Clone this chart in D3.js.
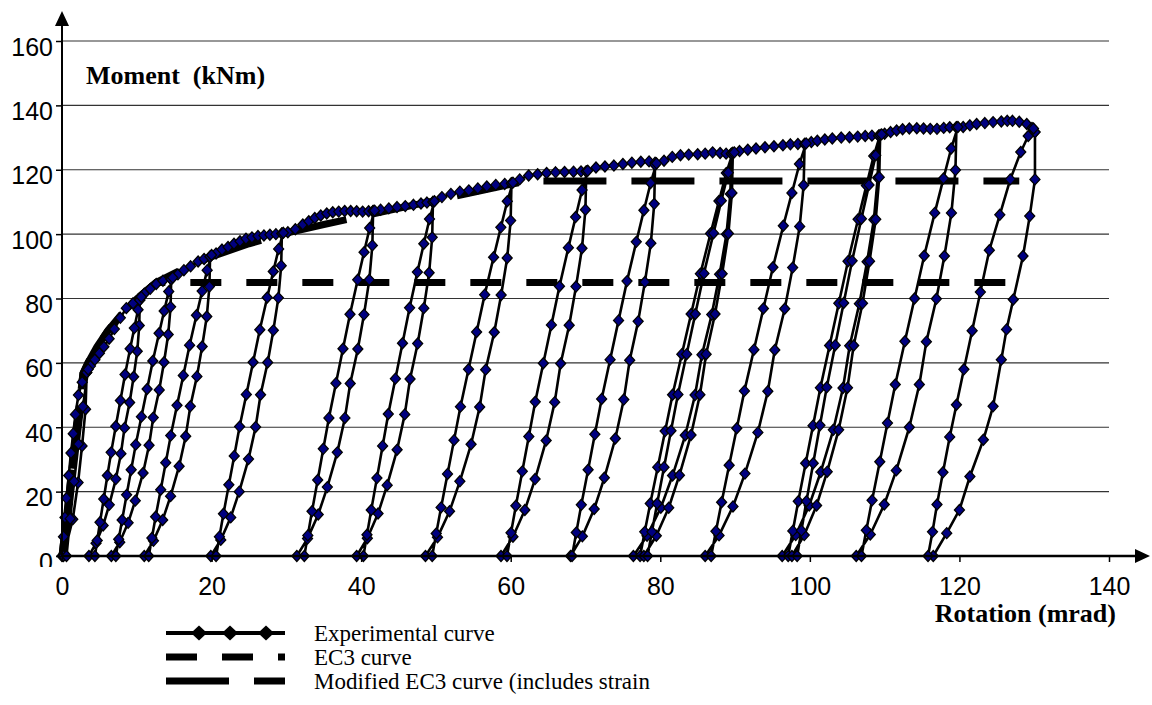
<!DOCTYPE html>
<meta charset="utf-8">
<title>Moment - rotation</title>
<style>

body {
  margin: 0;
  background: #fff;
}
svg {
  display: block;
}
.num {
  font-family: "Liberation Sans", Arial, sans-serif;
  font-size: 25px;
  fill: #000;
}
.serif {
  font-family: "Liberation Serif", "Times New Roman", serif;
  fill: #000;
}

</style>
<body>
<svg></svg>
</body>
<script src="https://d3js.org/d3.v7.min.js"></script>
<script>

// axis ticks
var rotationTicks = [0, 20, 40, 60, 80, 100, 120, 140];
var momentTicks = [0, 20, 40, 60, 80, 100, 120, 140, 160];

// EC3 curves [rotation mrad, moment kNm]
var ec3Curve = [[0,0],[2.8,56.7],[3.47,60],[4.66,65],[6.13,70],[7.91,75],[10.05,80],[12.58,85],[128,85]];
var modifiedEc3 = [[0,0],[2.8,56.7],[3.47,60],[4.66,65],[6.13,70],[7.91,75],[10.05,80],[12.58,85],[16,89],[20,93],
  [25,97],[30,100.3],[35,103],[40,105.5],[45,108],[50,110.5],[55,113],[60,115.5],[62.5,116.5],[128,116.5]];

// experimental : loading envelope
var skeleton = [[0,0],[0.2,6],[0.4,12],[0.6,18],[0.9,25],[1.2,32],[1.5,38],[1.8,44],[2.2,50],[2.7,54],[3.3,57],
  [3.8,59],[4.4,61],[5.0,63],[5.6,65],[6.3,67.5],[7.0,70.5],[7.8,74],[8.6,77],[9.5,78.5],[10.4,79.5],
  [11.0,81.5],[11.8,83],[12.6,84.5],[13.5,85.5],[14.6,86],
  [15.5,87.5],[16.3,88.8],[17.2,90],[18.2,91.5],[19.0,92.3],[19.8,93],
  [20.6,94],[21.4,95.2],[22.2,96],[23.0,97],[23.8,97.8],[24.6,98.6],[25.4,99],[26.2,99.4],[27.0,99.6],[27.8,99.8],[28.6,100],[29.4,100.2],
  [30.2,100.6],[31.2,101.5],[32.2,103],[33.0,104],[33.8,105],[34.6,105.8],[35.4,106.4],[36.2,106.8],[37.0,107],[37.8,107.2],[38.6,107.2],[39.4,107.1],[40.2,107],[41.0,107.1],[41.6,107.2],
  [42.6,107.6],[43.7,108],[44.8,108.4],[45.9,108.7],[47.0,109.1],[48.0,109.5],[48.8,109.8],[49.6,110],
  [50.8,111.5],[52.0,112.5],[53.2,113.2],[54.4,113.6],[55.6,114.2],[56.8,114.8],[58.0,115.3],[59.2,115.6],[60.1,115.8],
  [61.2,117],[62.4,118.2],[63.6,118.6],[64.8,119],[66.0,119.2],[67.2,119.3],[68.4,119.4],[69.4,119.5],[70.1,119.5],
  [71.4,120.7],[72.6,121],[73.8,121.3],[75.0,121.8],[76.2,122.2],[77.4,122.5],[78.5,122.6],[79.3,122.2],
  [80.5,122.8],[81.6,124],[82.7,124.5],[83.8,124.7],[85.0,124.8],[86.0,125],[87.0,125.4],[88.0,125.2],[88.8,125],[89.5,125],
  [90.6,125.8],[91.7,126.2],[92.8,126.6],[94.0,127],[95.2,127.3],[96.4,127.6],[97.4,127.9],[98.4,128],[99.3,128],
  [100.2,128.6],[101.0,129],[102.0,129.4],[103.0,129.7],[104.2,130],[105.3,130.1],[106.4,130.3],[107.4,130.5],[108.3,130.6],[109.2,130.6],
  [110.0,131.2],[110.8,131.7],[111.6,132.2],[112.4,132.6],[113.3,132.8],[114.3,132.9],[115.2,132.8],[116.1,132.7],[117.0,132.7],[117.9,133],[118.7,133.2],[119.6,133.2],
  [120.5,133.3],[121.4,133.8],[122.3,134.2],[123.4,134.5],[124.5,134.8],[125.6,135],[126.4,135.2],[127.1,135.2],[128.0,134.9],[129.0,134.2],[129.7,133],[130.1,131.7]];

// experimental : unloading / reloading cycles
var loop01 = [[3.3,57],[3.15,45.6],[2.68,34.2],[2.15,22.8],[1.44,11.4],[0.2,0],
  [0.6,0],[1.09,11.6],[1.62,23.2],[2.2,34.8],[2.8,46.4],[3.5,58]];
var loop02 = [[10.4,79.5],[10.33,71.6],[10.06,63.6],[9.58,55.7],[9.04,47.7],[8.36,39.8],[7.88,31.8],[7.2,23.9],[6.32,15.9],[5.5,9.5],[4.55,4.0],[3.6,0],
  [4.4,0],[4.71,4.8],[5.08,10.5],[5.58,17.7],[6.07,25.0],[6.57,32.2],[7.19,40.3],[7.81,48.3],[8.43,56.4],[9.11,64.4],[9.67,70.8],[10.17,76.5],[10.6,80.5]];
var loop03 = [[14.6,86],[14.52,77.4],[14.2,68.8],[13.64,60.2],[13.0,51.6],[12.2,43],[11.64,34.4],[10.84,25.8],[9.8,17.2],[8.84,10.3],[7.72,4.3],[6.6,0],
  [7.2,0],[7.58,5.2],[8.04,11.2],[8.64,19.0],[9.25,26.8],[9.86,34.6],[10.62,43.3],[11.38,51.9],[12.14,60.6],[12.98,69.2],[13.66,76.1],[14.27,82.2],[14.8,86.5]];
var loop04 = [[19.8,93],[19.71,83.7],[19.36,74.4],[18.74,65.1],[18.04,55.8],[17.16,46.5],[16.54,37.2],[15.66,27.9],[14.52,18.6],[13.46,11.2],[12.23,4.7],[11.0,0],
  [11.6,0],[12.02,5.6],[12.52,12.2],[13.2,20.6],[13.87,29.0],[14.54,37.4],[15.38,46.8],[16.22,56.1],[17.06,65.5],[17.98,74.8],[18.74,82.3],[19.41,88.8],[20.0,93.5]];
var loop05 = [[29.4,100.2],[29.31,90.2],[28.93,80.2],[28.26,70.1],[27.5,60.1],[26.55,50.1],[25.89,40.1],[24.94,30.1],[23.7,20.0],[22.56,12.0],[21.23,5.0],[19.9,0],
  [20.6,0],[21.05,6.0],[21.59,13.1],[22.31,22.1],[23.03,31.1],[23.75,40.2],[24.65,50.2],[25.55,60.2],[26.45,70.3],[27.44,80.3],[28.25,88.4],[28.97,95.4],[29.6,100.4]];
var loop06 = [[41.6,107.2],[41.5,96.5],[41.09,85.8],[40.38,75.0],[39.56,64.3],[38.54,53.6],[37.83,42.9],[36.81,32.2],[35.48,21.4],[34.26,12.9],[32.83,5.4],[31.4,0],
  [32.4,0],[32.87,6.4],[33.43,13.9],[34.19,23.6],[34.94,33.3],[35.69,42.9],[36.63,53.7],[37.57,64.4],[38.51,75.1],[39.54,85.8],[40.39,94.4],[41.14,101.9],[41.8,107.3]];
var loop07 = [[49.6,110],[49.5,99],[49.09,88],[48.38,77],[47.56,66],[46.54,55],[45.83,44],[44.81,33],[43.48,22],[42.26,13.2],[40.83,5.5],[39.4,0],
  [40.3,0],[40.78,6.6],[41.35,14.3],[42.11,24.2],[42.87,34.2],[43.63,44.1],[44.58,55.1],[45.53,66.1],[46.48,77.1],[47.52,88.2],[48.38,97.0],[49.14,104.7],[49.8,110.2]];
var loop08 = [[60.1,115.8],[59.99,104.2],[59.53,92.6],[58.72,81.1],[57.8,69.5],[56.65,57.9],[55.85,46.3],[54.7,34.7],[53.2,23.2],[51.82,13.9],[50.21,5.8],[48.6,0],
  [49.5,0],[50.04,7.0],[50.69,15.1],[51.55,25.5],[52.42,36.0],[53.28,46.4],[54.36,58.0],[55.44,69.6],[56.52,81.2],[57.71,92.8],[58.68,102.1],[59.54,110.2],[60.3,116]];
var loop09 = [[70.1,119.5],[69.99,107.6],[69.53,95.6],[68.73,83.7],[67.82,71.7],[66.68,59.8],[65.88,47.8],[64.74,35.9],[63.26,23.9],[61.89,14.3],[60.3,6.0],[58.7,0],
  [59.5,0],[60.04,7.2],[60.69,15.6],[61.55,26.3],[62.42,37.1],[63.28,47.9],[64.36,59.9],[65.44,71.8],[66.52,83.8],[67.71,95.8],[68.68,105.3],[69.54,113.7],[70.3,119.7]];
var loop10 = [[79.3,121.5],[79.19,109.4],[78.74,97.2],[77.94,85.1],[77.04,72.9],[75.91,60.8],[75.12,48.6],[73.99,36.5],[72.52,24.3],[71.16,14.6],[69.58,6.1],[68.0,0],
  [68.2,0],[68.77,7.3],[69.44,15.9],[70.35,26.8],[71.25,37.8],[72.16,48.8],[73.29,61],[74.42,73.2],[75.55,85.4],[76.79,97.6],[77.81,107.4],[78.71,115.9],[79.5,122]];
var loop11 = [[89.5,125],[89.37,112.5],[88.85,100],[87.93,87.5],[86.88,75],[85.57,62.5],[84.65,50],[83.34,37.5],[81.64,25],[80.07,15],[78.23,6.3],[76.4,0],
  [77.3,0],[77.92,7.5],[78.66,16.3],[79.66,27.6],[80.65,38.8],[81.64,50.1],[82.88,62.7],[84.12,75.2],[85.36,87.7],[86.72,100.2],[87.84,110.3],[88.83,119.0],[89.7,125.3],
  [89.58,112.8],[89.11,100.2],[88.27,87.7],[87.32,75.2],[86.13,62.7],[85.3,50.1],[84.11,37.6],[82.56,25.1],[81.13,15.0],[79.47,6.3],[77.8,0],
  [78.3,0],[78.88,7.5],[79.58,16.3],[80.5,27.6],[81.43,38.9],[82.36,50.2],[83.52,62.7],[84.68,75.2],[85.84,87.8],[87.12,100.3],[88.16,110.4],[89.09,119.1],[89.9,125.4]];
var loop12 = [[99.3,128],[99.17,115.2],[98.64,102.4],[97.7,89.6],[96.64,76.8],[95.31,64],[94.38,51.2],[93.05,38.4],[91.32,25.6],[89.72,15.4],[87.86,6.4],[86.0,0],
  [86.8,0],[87.44,7.7],[88.2,16.7],[89.21,28.2],[90.23,39.7],[91.25,51.3],[92.52,64.1],[93.79,76.9],[95.06,89.7],[96.45,102.6],[97.6,112.8],[98.61,121.8],[99.5,128.2]];
var loop13 = [[109.2,130.6],[109.07,117.5],[108.56,104.5],[107.65,91.4],[106.62,78.4],[105.33,65.3],[104.43,52.2],[103.14,39.2],[101.46,26.1],[99.91,15.7],[98.11,6.5],[96.3,0],
  [97.1,0],[97.72,7.8],[98.45,17.0],[99.44,28.8],[100.42,40.5],[101.41,52.3],[102.64,65.4],[103.87,78.5],[105.1,91.6],[106.45,104.6],[107.56,115.1],[108.54,124.3],[109.4,130.8],
  [109.28,117.7],[108.81,104.6],[107.98,91.6],[107.04,78.5],[105.86,65.4],[105.03,52.3],[103.85,39.2],[102.32,26.2],[100.9,15.7],[99.25,6.5],[97.6,0],
  [98.3,0],[98.87,7.9],[99.54,17.0],[100.45,28.8],[101.35,40.6],[102.26,52.4],[103.39,65.5],[104.52,78.6],[105.65,91.7],[106.89,104.8],[107.91,115.3],[108.81,124.5],[109.6,131]];
var loop14 = [[119.6,133.2],[119.47,119.9],[118.93,106.6],[117.99,93.2],[116.92,79.9],[115.58,66.6],[114.64,53.3],[113.3,40.0],[111.56,26.6],[109.95,16.0],[108.08,6.7],[106.2,0],
  [106.9,0],[107.55,8.0],[108.32,17.3],[109.35,29.3],[110.38,41.3],[111.42,53.3],[112.71,66.7],[114.0,80.0],[115.29,93.3],[116.7,106.6],[117.87,117.3],[118.9,126.6],[119.8,133.3]];
var loop15 = [[130.1,131.7],[130.1,117],[129.4,105.6],[128.5,93.2],[127.2,79.7],[126.3,70.4],[125.6,61],[124.5,46.5],[123.2,36.1],[121.4,24.7],[120,14.3],[118.3,7.1],[116.5,0],
  [115.8,0],[116.4,7.5],[117.0,16],[117.8,26],[118.7,37],[119.6,47],[120.6,58],[121.7,70],[122.8,82],[124.0,95],[125.4,106],[126.8,117],[128.2,125.5],[129.2,130.5],[129.9,132.8]];

var loops = [loop01, loop02, loop03, loop04, loop05, loop06, loop07, loop08,
             loop09, loop10, loop11, loop12, loop13, loop14, loop15];

var legendLabels = ["Experimental curve", "EC3 curve", "Modified EC3 curve (includes strain"];

var width = 1152,
    height = 705;

var svg = d3.select("svg").attr("width", width).attr("height", height);

var x = d3.scaleLinear().domain([0, 140]).range([62, 1109]),
    y = d3.scaleLinear().domain([0, 160]).range([556, 41]);

var line = d3.line().x(d => x(d[0])).y(d => y(d[1]));

var grid_layer = svg.append('g'),
    ec3_layer = svg.append('g').attr('fill', 'none').attr('stroke', '#000').attr('stroke-width', 7),
    exp_layer = svg.append('g').attr('fill', 'none').attr('stroke', '#000').attr('stroke-width', 2.6),
    marker_layer = svg.append('g'),
    axis_layer = svg.append('g'),
    legend_layer = svg.append('g');

// horizontal gridlines
grid_layer.selectAll('line')
    .data(momentTicks.filter(d => d > 0))
    .enter().append('line')
    .attr('x1', x(0)).attr('x2', x(140))
    .attr('y1', d => y(d)).attr('y2', d => y(d))
    .attr('stroke', '#333').attr('stroke-width', 1.2);

// EC3 curves
ec3_layer.append('path').datum(ec3Curve).attr('d', line)
    .attr('stroke-dasharray', '31,25');
ec3_layer.append('path').datum(modifiedEc3).attr('d', line)
    .attr('stroke-dasharray', '63,25');

// experimental curve
var series = [skeleton].concat(loops);
exp_layer.selectAll('path')
    .data(series)
    .enter().append('path')
    .attr('d', line)
    .attr('stroke-linejoin', 'round');

var diamond = "M0,-5.5L5,0L0,5.5L-5,0Z";
marker_layer.selectAll('path')
    .data(d3.merge(series))
    .enter().append('path')
    .attr('d', diamond)
    .attr('transform', d => "translate(" + x(d[0]) + "," + y(d[1]) + ")")
    .attr('fill', '#000080').attr('stroke', '#000').attr('stroke-width', 1.3);

// axes
var xAxis = d3.axisBottom(x).tickValues(rotationTicks).tickSize(6).tickSizeOuter(0).tickPadding(15),
    yAxis = d3.axisLeft(y).tickValues(momentTicks).tickSize(6).tickSizeOuter(0).tickPadding(3);

svg.append('clipPath').attr('id', 'yclip')
    .append('rect').attr('x', -80).attr('y', 0).attr('width', 100).attr('height', 567);

var gx = axis_layer.append('g').attr('transform', 'translate(0,' + y(0) + ')').call(xAxis);
var gy = axis_layer.append('g').attr('transform', 'translate(' + x(0) + ',0)')
    .attr('clip-path', 'url(#yclip)').call(yAxis);

[gx, gy].forEach(function(g){
    g.select('.domain').remove();
    g.selectAll('.tick line').attr('stroke', '#000').attr('stroke-width', 1.5);
    g.selectAll('.tick text').attr('class', 'num').attr('fill', '#000');
});
gy.selectAll('.tick text').attr('dy', '0.56em');

// axis lines with arrow heads
axis_layer.append('line')
    .attr('x1', x(0)).attr('x2', 1140).attr('y1', y(0)).attr('y2', y(0))
    .attr('stroke', '#000').attr('stroke-width', 2.5);
axis_layer.append('line')
    .attr('x1', x(0)).attr('x2', x(0)).attr('y1', y(0)).attr('y2', 20)
    .attr('stroke', '#000').attr('stroke-width', 2);
axis_layer.append('path')
    .attr('d', "M1150," + y(0) + "L1135," + (y(0) - 7) + "L1135," + (y(0) + 7) + "Z");
axis_layer.append('path')
    .attr('d', "M" + x(0) + ",11L" + (x(0) - 7) + ",26L" + (x(0) + 7) + ",26Z");

// axis titles
svg.append('text').attr('class', 'serif')
    .attr('x', 86).attr('y', 84)
    .style('font-size', '26px').style('font-weight', 'bold')
    .style('white-space', 'pre')
    .text("Moment  (kNm)");
svg.append('text').attr('class', 'serif')
    .attr('x', 1116).attr('y', 622).attr('text-anchor', 'end')
    .style('font-size', '26px').style('font-weight', 'bold')
    .text("Rotation (mrad)");

// legend
var legendY = [633, 657, 681];

legend_layer.append('line')
    .attr('x1', 166).attr('x2', 285).attr('y1', legendY[0]).attr('y2', legendY[0])
    .attr('stroke', '#000').attr('stroke-width', 4);
legend_layer.selectAll('.lg-mark')
    .data([199, 230, 266])
    .enter().append('path')
    .attr('class', 'lg-mark')
    .attr('d', "M0,-7.5L8,0L0,7.5L-8,0Z")
    .attr('transform', d => "translate(" + d + "," + legendY[0] + ")");
legend_layer.append('line')
    .attr('x1', 166).attr('x2', 285).attr('y1', legendY[1]).attr('y2', legendY[1])
    .attr('stroke', '#000').attr('stroke-width', 7).attr('stroke-dasharray', '31,25');
legend_layer.append('line')
    .attr('x1', 166).attr('x2', 285).attr('y1', legendY[2]).attr('y2', legendY[2])
    .attr('stroke', '#000').attr('stroke-width', 7).attr('stroke-dasharray', '63,25');

legend_layer.selectAll('text')
    .data(legendLabels)
    .enter().append('text')
    .attr('class', 'serif')
    .attr('x', 314)
    .attr('y', (d, i) => legendY[i] + 8)
    .style('font-size', '23px')
    .text(d => d);

</script>
